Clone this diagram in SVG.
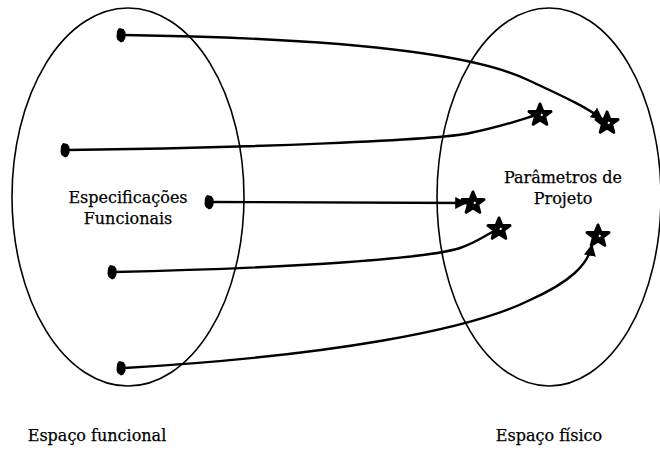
<svg xmlns="http://www.w3.org/2000/svg" width="660" height="452" viewBox="0 0 660 452">
  <defs>
    <style>
      .space { fill: none; stroke: #000; stroke-width: 1.6; }
      .link { fill: none; stroke: #000; stroke-width: 2.4; stroke-linecap: round; }
      .lbl { font-size: 16px; fill: #000; stroke: #000; stroke-width: 0.25; text-anchor: middle; }
      .src { fill: #000; }
      .star { fill: #000; stroke: #000; stroke-width: 3; stroke-linejoin: round; }
      .core { fill: #fff; }
    </style>
    <!-- source point: dark rounded blob -->
    <path id="blob" d="M-2,-7 L2.5,-6 L4.5,-3 L4.5,3 L2.5,6.5 L0,7.5 L-3.5,5 L-4.5,2 L-4,-4 Z"/>
    <!-- five-pointed star with small light core -->
    <g id="starMark">
      <polygon class="star" points="0,-11 2.9,-3.7 11,-3.4 4.6,1.4 6.8,9.3 0,4.9 -6.8,9.3 -4.6,1.4 -11,-3.4 -2.9,-3.7"/>
      <polygon class="core" points="1,-1.5 3,-0.8 2.2,1.2 0.6,0.8"/>
    </g>
    <marker id="arrow" viewBox="0 0 10 10" refX="9" refY="5" markerWidth="5" markerHeight="5" orient="auto" markerUnits="strokeWidth">
      <path d="M0,0 L10,5 L0,10 Z" fill="#000"/>
    </marker>
  </defs>

  <!-- functional and physical domains -->
  <g id="functional-space">
    <ellipse class="space" cx="128" cy="197" rx="116" ry="189"/>
    <text class="lbl" x="128" y="203" font-family="'DejaVu Serif', 'Liberation Serif', serif">Especificações</text>
    <text class="lbl" x="128" y="224" font-family="'DejaVu Serif', 'Liberation Serif', serif">Funcionais</text>
  </g>
  <g id="physical-space">
    <ellipse class="space" cx="549" cy="197" rx="112" ry="189"/>
    <text class="lbl" x="563" y="183" font-family="'DejaVu Serif', 'Liberation Serif', serif">Parâmetros de</text>
    <text class="lbl" x="563" y="204" font-family="'DejaVu Serif', 'Liberation Serif', serif">Projeto</text>
  </g>

  <!-- mapping connectors -->
  <g id="connectors">
    <path class="link" d="M124,35 C330,38 470,52 528,80 C560,95 585,106 602,119" marker-end="url(#arrow)"/>
    <path class="link" d="M67,150 C250,148 440,140 470,133 C500,127 520,120 533,116"/>
    <path class="link" d="M212,202 L466,203" marker-end="url(#arrow)"/>
    <path class="link" d="M114,272 C300,268 430,258 460,248 C475,243 485,236 494,231"/>
    <path class="link" d="M124,368 C330,356 470,330 530,300 C570,282 588,265 592,245" marker-end="url(#arrow)"/>
  </g>

  <!-- source points -->
  <g id="f1"><use href="#blob" class="src" x="121" y="35"/></g>
  <g id="f2"><use href="#blob" class="src" x="65" y="150"/></g>
  <g id="f3"><use href="#blob" class="src" x="209" y="202"/></g>
  <g id="f4"><use href="#blob" class="src" x="112" y="272"/></g>
  <g id="f5"><use href="#blob" class="src" x="121" y="368"/></g>

  <!-- design parameters -->
  <g id="p1"><use href="#starMark" x="607" y="123"/></g>
  <g id="p2"><use href="#starMark" x="540" y="115"/></g>
  <g id="p3"><use href="#starMark" x="473" y="203"/></g>
  <g id="p4"><use href="#starMark" x="499" y="229"/></g>
  <g id="p5"><use href="#starMark" x="598" y="236"/></g>

  <!-- domain captions -->
  <text class="lbl" x="97" y="441" font-family="'DejaVu Serif', 'Liberation Serif', serif">Espaço funcional</text>
  <text class="lbl" x="549" y="441" font-family="'DejaVu Serif', 'Liberation Serif', serif">Espaço físico</text>
</svg>
